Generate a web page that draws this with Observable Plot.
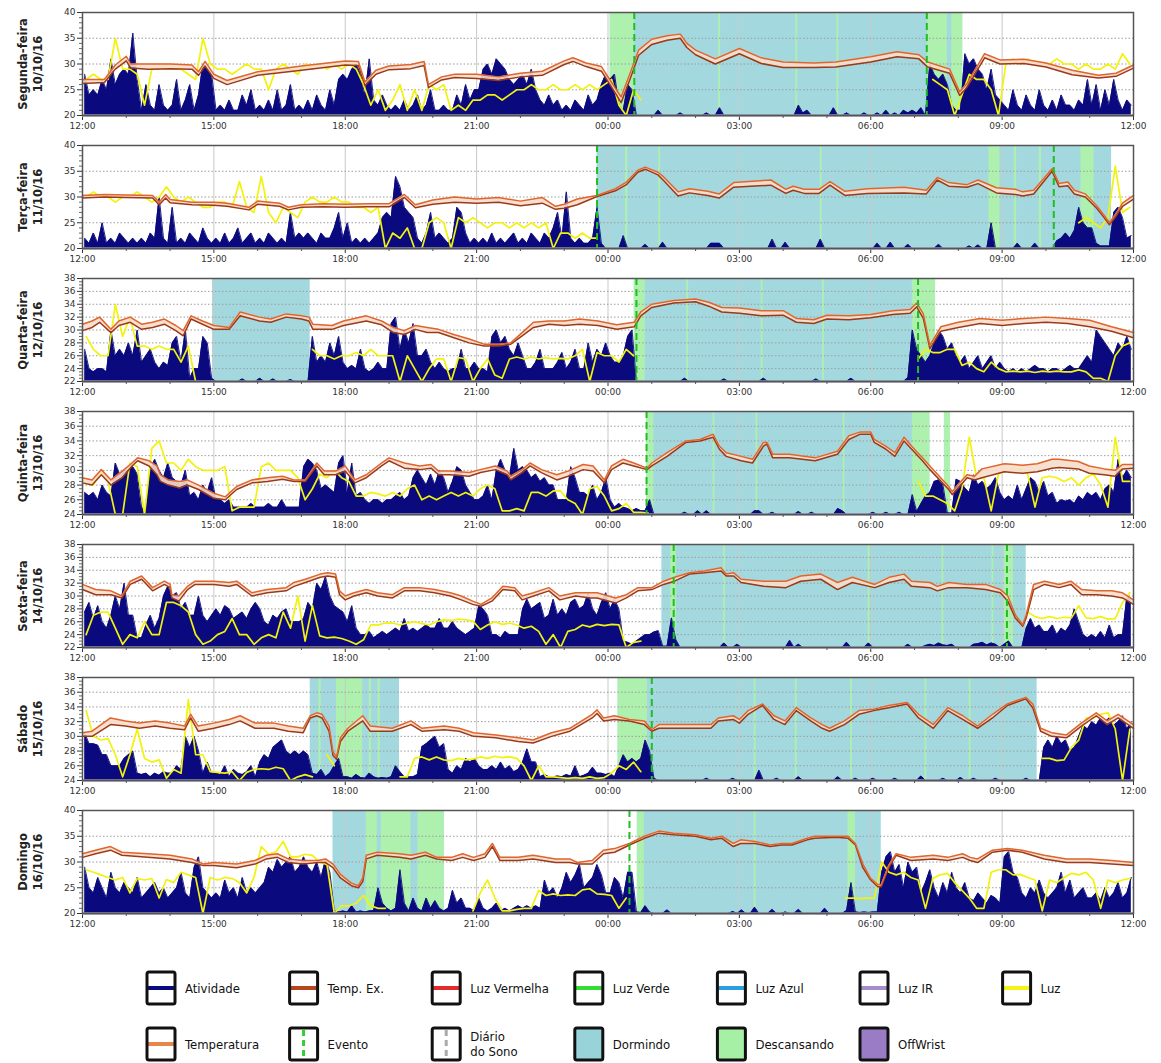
<!DOCTYPE html>
<html><head><meta charset="utf-8">
<script src="https://cdn.jsdelivr.net/npm/d3@7"></script>
<script src="https://cdn.jsdelivr.net/npm/@observablehq/plot@0.6"></script>
<style>
html,body{margin:0;padding:0;background:#fff;width:1161px;height:1063px;overflow:hidden;font-family:"DejaVu Sans",Verdana,sans-serif}
.panel{position:absolute;left:0;width:1161px;height:133px}
#legend{position:absolute;left:0;top:940px}
</style></head><body>
<div id="charts"></div>
<div id="legend"></div>
<script>
const _=null;
const dayNames=["Segunda-feira","Terça-feira","Quarta-feira","Quinta-feira","Sexta-feira","Sábado","Domingo"];
const dayDates=["10/10/16","11/10/16","12/10/16","13/10/16","14/10/16","15/10/16","16/10/16"];
const yMin=[20,20,22,24,22,24,20];
const yMax=[40,40,38,38,38,38,40];
const yStep=[5,5,2,2,2,2,5];
const yMinor=[1,1,0.5,0.5,0.5,0.5,1];
const hourLabels=["12:00","15:00","18:00","21:00","00:00","03:00","06:00","09:00","12:00"];

// Atividade: height above axis minimum, 10 samples per hour (from 12:00)
const act1=[[8,4,5,4,7,5,11,6,8,9],[8,16,7,1,6,2,1,6,2,1],[2,7,1,3,6,1,4,10,9,8],[1,2,1,3,1,1,4,2,5,1],[2,1,3,1,5,1,2,6,1,2],[1,3,1,4,2,1,5,2,7,8],[7,9,10,8,4,11,3,2,4,2],[1,2,1,3,1,2,4,1,2,5],[1,1,2,1,1,4,2,6,3,5],[5,9,10,8,11,10,9,7,6,7],[8,6,9,5,3,2,4,2,3,1],[2,1,3,2,1,4,2,3,6,8],[7,8,2,1,6,5,0,0,0,0],[0,1,0,0,0,0,.5,0,0,0],[0,0,.5,0,0,1.5,0,0,0,0],[0,0,0,0,0,0,0,0,0,0],[0,0,0,2,.5,1,0,0,0,0],[0,1.5,0,0,.5,0,0,0,.5,0],[0,.5,0,1,0,.5,0,1,.5,1],[.5,1.5,0,10,8,7,8,6,2,1],[1,12,10,11,9,8,5,9,4,3],[2,1,5,2,1,4,2,1,5,2],[1,3,1,4,2,2,1,3,2,7],[2,6,1,5,2,7,3,1,3,2]];
const act2=[[2,1,3,1,5,1,2,1,3,2],[1,2,1,2,1,3,2,10,2,1],[8,1,2,1,3,2,1,4,2,1],[2,1,3,1,2,4,1,2,3,1],[2,1,3,2,1,2,1,7,2,3],[2,3,2,1,3,2,2,4,7,2],[5,1,2,1,2,1,2,3,6,7],[6,14,12,8,7,6,2,1,3,7],[2,3,2,1,2,8,7,3,1,2],[1,2,1,3,1,2,1,2,3,1],[2,1,3,2,1,3,2,4,7,2],[11,2,1,2,1,1,2,8,1,0],[0,0,0,2.5,0,0,0,0,.8,0],[0,0,1.2,0,0,0,0,0,0,0],[0,0,0,1,1,1,0,0,0,0],[0,0,0,0,0,0,0,1.8,0,0],[1.2,0,0,0,0,0,0,0,1.8,0],[0,0,0,0,0,0,0,0,0,0],[0,1,0,0,1.2,0,0,0,.8,0],[0,0,0,0,0,.8,0,0,0,0],[0,0,.5,0,.7,0,0,5,0,0],[0,0,0,1,0,0,0,1,0,0],[0,0,1.5,2,3,2,3.5,8,5,4],[4,1,.5,.5,.5,7,8,6,2,2.5]];
const act3=[[5,2,1.5,2,2,1.5,8,4,5,4],[6,4,8,3,4,5,3,2,3,2.5],[6,7,3,8,.5,2,2,7,6,.5],[0,0,0,0,0,0,.4,0,0,0],[.5,0,0,.4,0,0,0,.3,0,0],[0,0,7,3,4,3,6,4,7,3],[2,2.5,2,5,2,1.5,2,3,2,2],[9,10,5,8,6,9,4,4,5,3],[2,3,2,1.5,2,2,5,2,2,3],[2,2,1.5,7,8,6,7,5,4,6],[4,2,2,3,5,2,2,2,3,4.5],[2,3,5,2,2,6,3,5,4,6],[4,3,3,4,7,8,0,0,0,0],[0,0,0,0,0,0,0,.5,0,0],[0,0,0,0,0,0,.4,0,0,0],[0,0,0,0,0,.5,0,0,0,0],[0,0,0,0,0,0,0,.4,0,0],[0,0,0,0,0,.5,0,0,0,0],[0,0,0,0,0,0,0,0,.6,8],[5,4,3,4,6,8,7,5,6,4],[3,4,2,3,4,2,3,4,2,3],[2,1.5,2,1.5,2,1.5,2,2.5,2,2],[1.5,2,2,1.5,2,2.5,2,2,3,4],[3,8,7,6,5,4,6,5,7,5]];
const act4=[[3,2.5,3,2,4,3,2.5,7,5.5,6],[6,6.5,5.5,1,.5,6,7.5,6,5,7],[5,4.5,4,6,2.5,3,2,4,3,5],[2,2,1.5,2,1,1,1,1,1.5,1],[1,1,1.5,1,1,2,1,1,1,1],[6.5,7.5,7,6,3.5,4,3.5,3,7,8],[3,7,2.5,3,2,1.5,2,2,1.5,2],[2,2.5,3,2,2.5,5,6,5,4,5.5],[4,6,5,3,4.5,6.5,6,4,3,2],[2,2.5,4,2,6,7.5,6,5,9,6],[6.5,6,5,5.5,4.5,5,4,4,2,2],[2,6.5,5,3,3,2.5,4,2,3,5],[2,1,1.5,1,.8,.5,.8,.5,.5,2],[0,0,0,0,0,0,0,.3,0,0],[.5,0,.5,0,0,0,0,0,0,0],[0,0,0,.5,.5,0,0,.3,0,0],[0,0,0,.4,0,0,.3,0,0,0],[0,0,.8,.5,0,0,0,0,0,0],[.3,0,0,.3,0,0,.3,0,0,2.7],[.4,1.5,2.5,3,4.5,4.7,4,.2,.2,4.8],[4.5,3.6,3,5.4,4,4.5,3.5,4,5,3],[2,2.5,2,4,2,3.5,5,4.5,3,4.5],[2.5,3,1.5,2,1.8,2,1.5,2.5,2,3],[2.5,3,2,3.5,4,3,7.5,5,6,5]];
const act5=[[5.5,7,4.5,6.5,4,3,5,8,6,10],[5,5,1.5,1.5,3.5,5,3,4.5,8,9.5],[8,8.5,6,7,5,5,8,5,4,5],[6,5,6.5,6,4.5,5,5.5,4.5,6,7],[6,4,3.5,5,4.5,5.5,6,4,4,4],[4.5,7,6,10,9,11,8,6.5,6,5.5],[4,6.5,3,2,2,2.5,1.5,2,2.5,2],[2.5,3,2.5,4.5,2.5,3,2.5,3,3.5,3],[3,4.5,3,3,4,3,2.5,2,2.5,3],[6.5,6,5,2,2,1.5,2.5,2,2,2],[6,7.5,6,6.5,7,4.5,5,7.5,5,6],[5,7,7.5,6,6.5,8.5,6,5,7,8.5],[6,7.5,6,1,.8,.5,1,1.5,2,2],[2.4,2.6,.2,.2,4.6,1.2,0,0,0,0],[0,0,0,0,0,0,.7,0,0,.5],[0,0,0,0,0,0,0,0,0,0],[0,1.1,0,.5,0,0,0,0,0,0],[0,0,0,0,.8,0,0,0,0,.7],[0,0,0,0,0,0,0,0,.5,0],[0,0,.3,.5,.3,.7,.4,.3,.5,0],[0,0,0,.5,.6,.8,.4,.7,.5,0],[.5,1,0,0,0,3,4.5,3,3.5,2.5],[2.5,3.5,2,3,2.5,3.5,6,4,2,1.5],[2,1.5,2.5,1.5,3.5,1.5,2,2,8,7.5]];
const act6=[[6.5,5,5,4.8,3.5,3.5,2,2,2,3],[3.5,4,1,.8,1,.5,1,.7,1.2,1],[1,2,1.5,6,4.5,6,4,1,2.5,1],[1,.8,2,.5,1.5,1,.8,1.2,2,.5],[2.5,3.5,3,4.5,5,5.5,4,3.5,4,3.5],[4,3.5,1,.8,1.5,.5,1,2,3,.5],[.5,.3,.8,.4,.3,1,.5,.3,.4,.3],[.5,2,1.2,.5,.5,.5,.8,4.6,5,5.5],[6,4.5,5,1.5,1,2,1.5,3,2.5,3],[2,1.5,1.5,2,1.5,2.5,1.5,2,1.2,1.5],[2.5,4.3,2.5,2.5,.5,.8,.5,.5,.6,.5],[.8,.6,2,.5,.7,1,1.8,1,1,.8],[1,.5,2,3.5,2.5,3,2.5,3,5.5,4],[.3,0,0,0,0,0,0,0,0,0],[0,0,.3,0,0,0,0,0,.3,0],[0,0,0,0,1.4,0,0,0,.3,0],[0,0,0,.5,0,0,0,0,0,0],[0,0,.5,0,0,0,.3,0,0,0],[.3,0,0,0,0,.3,0,0,0,0],[0,.6,0,0,0,0,.3,0,0,0],[.4,0,0,.3,0,0,0,0,.3,0],[0,0,0,0,0,.3,0,0,0,4.5],[5.5,4.5,6,5,5.5,4,4.5,6,7.5,7],[8,7.5,8.5,8,8.5,7.5,8,8.8,7,8]];
const act7=[[9,5,4,7,5,3,8,5,4,6],[5,4,7,3,4,5,6,4,5,3],[4,5,8,4,3,9,11,5,4,3],[4,3,6.5,4,5,3,7,4,5,4],[5,6,9,8,10.5,9,10,11,8,9],[11,9,8,10,7,10.5,8,.5,.3,.5],[.3,1.5,.3,.5,.3,.5,.6,5,2,1],[.5,1,8.5,2,.5,3,1,.5,3,1],[2.5,1,.5,1,4.5,2,3,1,1,.5],[3,1,.5,1,2,.5,1,.5,1,1.5],[1,1.5,1,1.5,1,6.5,4,5,3,5],[8,6,7.5,9.5,5,6,7,9.5,7.5,4],[4,7,6,3,8,8,.3,.2,1.5,.3],[0,0,0,.7,0,0,0,0,0,0],[0,0,0,0,0,0,0,0,.4,0],[.7,0,0,1.2,0,0,0,.8,0,0],[.3,0,0,.8,0,0,0,0,0,1],[0,0,0,0,.6,6,.3,.2,.3,.2],[.3,.3,8,11,12,8,9.5,5,10,8],[9,4,6,8.5,5,3,6,4,8,5],[4,6,3,2.5,4,3,2,3.5,3,2],[11,12,8,7,4,3,5,4,6.5,4],[3,4,5,8,4,6.5,3,4,5,3],[3,4,2.5,5,3,4,6,3,4,7]];

// Luz: height above axis minimum, 6 samples per hour (null = not shown)
const lux1=[[7,8,7,7,15,9],[9,8,2,9,9,10],[9,9,8,7,15,10],[9,9,8,9,10,9],[9,5,9,10,9,8],[10,9,10,9,10,9],[10,9,6,2,5,1],[3,6,1,5,1,6],[5,6,1,2,1,3],[3,4,4,3,4,5],[5,6,5,5,6,5],[5,6,5,6,5,6],[7,2,0,5,3,_],[_,_,_,_,_,_],[_,_,_,_,_,_],[_,_,_,_,_,_],[_,_,_,_,_,_],[_,_,_,_,_,_],[_,_,_,_,_,_],[_,_,7,6,5,0],[4,8,7,7,5,0],[10,11,10,11,10,10],[10,11,10,10,9,10],[9,9,10,9,12,10]];
const lux2=[[10,11,10,10,9,10],[10,11,10,9,10,12],[10,9,10,9,8,8],[9,9,8,13,8,7],[14,7,5,8,7,6],[9,10,9,9,10,9],[9,8,8,7,8,0],[3,2,4,0,0,5],[6,5,0,6,5,6],[5,4,5,5,4,5],[4,5,4,5,0,3],[3,2,3,2,2,_],[_,_,_,_,_,_],[_,_,_,_,_,_],[_,_,_,_,_,_],[_,_,_,_,_,_],[_,_,_,_,_,_],[_,_,_,_,_,_],[_,_,_,_,_,_],[_,_,_,_,_,_],[_,_,_,_,_,_],[_,_,_,_,_,_],[_,_,_,_,5,6],[5,4,6,16,7,8]];
const lux3=[[7,5,4,4,12,7],[10,5.5,5.5,5,5.5,5],[5,3,5.5,0,_,_],[_,_,_,_,_,_],[_,_,_,_,_,_],[_,5,4,4,3.5,4],[4,4.5,4,5,4,4],[4,0,4,2,0,2],[3.5,3.5,0,3.7,3.5,0],[2,3.5,1,.5,3.5,3.8],[3.5,3.8,3.5,3.7,3.5,3.6],[3.5,4,5,0,4.5,4],[4,3,5,4,_,_],[_,_,_,_,_,_],[_,_,_,_,_,_],[_,_,_,_,_,_],[_,_,_,_,_,_],[_,_,_,_,_,_],[_,_,_,_,_,_],[3.5,5,4.5,4.5,5,5],[2.5,3,2,1.5,3,2],[1.5,1.6,1.5,1.6,1.4,1.6],[1.5,1.6,1.5,1.5,1.8,1.5],[.5,.5,0,4,5.5,6]];
const lux4=[[4.5,4,6,4.5,0,0],[7,6.5,0,9,10,7],[7,6,7.5,6.5,6,6],[6,6.5,.5,1,1,1],[6.5,7,6,6,6,5],[2,3.5,5.5,5,6,5],[4.5,2.5,2.5,3,2.8,2.5],[3,2.5,3.5,4,2,2.5],[2,2.5,3,2.5,3,2.5],[3.5,4,3.5,.5,.5,.8],[.5,3,3,2.5,3.2,3.2],[2,1.5,0,3.5,3.8,2.5],[.5,.8,1.5,.3,.3,.2],[_,_,_,_,_,_],[_,_,_,_,_,_],[_,_,_,_,_,_],[_,_,_,_,_,_],[_,_,_,_,_,_],[_,_,_,_,_,_],[4.5,2.5,2.5,2,1.5,.5],[3.5,10.5,5,5,.5,5.5],[6,6,6.2,5.5,1,5],[5.2,5,4.5,5,4,5],[5.5,4,1,10.5,4.5,4.5]];
const lux5=[[2,5,5.5,5.5,3,.5],[2,1.5,4,2,2,7],[7,6.5,5.5,2,.5,1],[2,2.5,4.5,2,2,.5],[1.5,2,1.5,5.5,3,8],[1,6.5,1.8,1.5,1.6,1.4],[1,.5,1.2,3.5,3.5,3.8],[3.8,3.5,3.8,4,3.7,3.5],[4,4.3,4.2,4.4,4.3,4.1],[2.8,3.5,4,3.6,3.8,3.5],[3,3.3,2.5,.5,2,0],[2.5,2.8,3.5,3.2,3.6,3.4],[3.6,3.5,0,.8,1,_],[_,_,_,_,_,_],[_,_,_,_,_,_],[_,_,_,_,_,_],[_,_,_,_,_,_],[_,_,_,_,_,_],[_,_,_,_,_,_],[_,_,_,_,_,_],[_,_,_,_,_,_],[_,_,_,5.5,4.8,4.5],[4.8,4.5,4.7,4.6,6.5,4.6],[4.5,4.8,4.4,4.5,7,8.5]];
const lux6=[[9.5,6,5.5,5.7,3.5,.5],[3.5,7,3,2.5,2.8,.3],[1.5,1,11,3.5,3.5,1.2],[1.1,1,1.2,0,1.1,1.5],[1.6,1.5,1.8,1.6,0,.5],[.8,.5,_,3.5,2,_],[_,_,_,_,_,_],[_,.5,.5,3,3.2,2.8],[3.2,2.8,2.7,3,2.8,2.9],[3.2,3,3.3,3.1,3.2,3],[2,0,2,.5,.5,.4],[.3,.4,.3,.5,.3,.4],[1,2,1.5,2.5,1.2,_],[_,_,_,_,_,_],[_,_,_,_,_,_],[_,_,_,_,_,_],[_,_,_,_,_,_],[_,_,_,_,_,_],[_,_,_,_,_,_],[_,_,_,_,_,_],[_,_,_,_,_,_],[_,_,_,_,_,3],[3,2.7,2.8,4.5,5.5,8.5],[8.5,9,9.2,7,0,7]];
const lux7=[[8.5,8,7.5,7,6.5,7],[4,6.8,6.5,6.8,3,6.6],[6,8,7.5,7,0,7],[6.5,7,6.8,6,4,7],[13,11.5,12,14,11,11],[11.5,11.3,10,9.5,0,1.5],[1.5,2,3.5,1.5,1,1],[_,_,_,_,_,_],[_,_,_,_,_,.5],[4,6.5,3,.5,.5,.8],[1,1,4.5,3.5,3.8,3.5],[3.6,3.5,4.6,4.8,3.8,3.7],[3.5,1,3,_,_,_],[_,_,_,_,_,_],[_,_,_,_,_,_],[_,_,_,_,_,_],[_,_,_,_,_,_],[_,_,3,3,2.9,3],[3,10,8,7.5,8,7],[6.5,1,6.8,7.5,7.8,6],[4.5,3,1,1,8,8.5],[8.5,7.5,7.6,7,6.5,.5],[6.5,6,7,7.8,7.5,8],[6.5,1,6.5,6,6.5,6.8]];

// Temperatura: [hours since 12:00, Temperatura, Temp. Ex.]
const temp1=[[0,27,26.2],[.5,27,26.4],[.75,29.8,29],[1,31.5,30.6],[1.1,30,29.2],[1.5,30,29],[2,30,29.1],[2.5,29.8,29],[2.65,28.5,27.8],[2.8,30.5,29.6],[3,28,27.2],[3.3,26.8,26],[4,28.5,27.8],[5,29.6,28.8],[6,30.6,29.8],[6.3,30.5,29.7],[6.45,26.5,25.8],[6.7,28.8,28],[7,29.6,28.9],[7.5,29.9,29.1],[7.8,30.5,29.7],[7.9,26,25.4],[8.2,27.5,26.9],[8.5,28,27.4],[9,28,27.2],[9.5,27.5,26.8],[10,28.2,27.5],[10.5,28.6,27.8],[11,30.6,29.9],[11.2,31.2,30.5],[11.5,30.2,29.5],[11.85,29.5,28.6],[12.15,25.5,24.6],[12.3,23.6,22.5],[12.5,28.1,27],[12.7,32.7,31.7],[13,34.8,33.8],[13.35,35.5,34.6],[13.65,35.8,35],[13.8,34,33.2],[14,32.7,31.8],[14.45,31,30],[15,33,32],[15.5,31.2,30.1],[16,30.4,29.3],[16.7,30.2,29.3],[17.2,30.4,29.4],[18,31.4,30.4],[18.6,32.4,31.4],[19.1,31.8,31],[19.3,30.4,29.4],[19.8,29,28.2],[20.03,24.6,23.9],[20.2,26.2,25.5],[20.6,32,31.2],[20.95,30.8,30],[21.5,30.9,30.1],[22,30.2,29.4],[22.6,28.8,27.9],[23.2,27.8,27.3],[23.6,28.2,27.6],[24,29.8,29.2]];
const temp2=[[0,30.3,29.8],[.5,30.5,30],[1,30.4,29.9],[1.6,30.3,29.8],[1.75,29,28.5],[1.9,30.5,29.8],[2,29.5,28.9],[2.5,29,28.5],[3,29,28.4],[3.3,28.8,28.2],[3.8,28,27.5],[4,29.2,28.6],[4.5,28.8,28.2],[4.7,28,27.5],[5,28.5,28],[5.5,28.7,28.1],[6,28.6,28],[6.5,28.7,28.1],[7,28.7,28.1],[7.35,30.5,29.9],[7.6,28.5,27.9],[8,29.4,28.6],[8.5,30,29],[9,29.6,28.8],[9.5,29.9,29],[10,29.2,28.3],[10.5,29.9,28.8],[10.8,28.2,27.6],[11,28.6,27.8],[11.3,29.6,28.5],[11.75,30.3,30.1],[12.17,31.6,31.2],[12.42,32.9,32.4],[12.68,35.2,34.8],[12.85,35.8,35.4],[13.14,34.8,34.3],[13.27,33.9,33.2],[13.6,31,30.2],[13.86,31.6,30.8],[14.28,31.1,30.3],[14.54,30.6,29.8],[14.87,32.8,31.9],[15.72,33.3,32.3],[16.06,31.5,30.7],[16.23,32.1,31.3],[16.48,31.5,30.7],[16.82,31.5,30.7],[17.07,33,32.3],[17.41,31.1,30.3],[17.92,31.6,30.7],[18.76,31.9,30.8],[19.27,31.3,30.6],[19.52,33.8,33.3],[19.78,32.8,32.1],[20.2,32.4,31.9],[20.45,33.3,32.6],[20.87,31.8,30.8],[21.3,31.5,30.5],[21.47,31,30.2],[21.72,31.3,30.6],[22.14,35.5,35],[22.3,32.6,32],[22.5,32.9,32.2],[22.65,31.3,30.6],[22.9,30.6,30],[23.16,28.3,27.8],[23.33,26.4,26],[23.45,25,24.6],[23.58,26.5,26],[23.75,28.8,28.2],[24,30.3,29.6]];
const temp3=[[0,30.9,29.9],[.22,31.4,30.4],[.39,32,31.2],[.65,30.1,29.6],[.83,31.4,30.7],[1.09,32,31.2],[1.35,30.9,30.1],[1.6,31.2,30.4],[1.87,31.7,30.9],[2.13,30.7,29.9],[2.3,29.9,29.1],[2.48,32.2,31.7],[2.74,31.4,30.9],[3,30.7,30.1],[3.35,30.4,30.1],[3.6,32.8,32.2],[4.04,32,31.4],[4.3,31.7,31.2],[4.65,32.5,32],[5,32.2,31.7],[5.17,32,31.4],[5.26,30.9,30.1],[5.7,30.7,30.1],[5.96,31.4,30.7],[6.48,32.2,31.4],[6.83,31.4,30.8],[7.1,30.4,29.6],[7.35,29.9,29.3],[7.6,30.7,30.1],[7.87,30.4,29.6],[8.13,30.1,29.6],[8.48,29.3,28.8],[8.83,28.6,28],[9.17,27.8,27.5],[9.52,27.8,27.5],[9.78,28,27.8],[10.04,29.6,29.1],[10.3,31.2,30.4],[10.65,31.4,30.9],[11,31.4,30.7],[11.35,31.7,30.9],[11.77,31.4,30.7],[12.2,30.8,30.1],[12.6,31.2,30.5],[12.75,32.8,32.2],[13,34,33.5],[13.5,34.6,34.2],[14,34.8,34.4],[14.3,34.3,33.7],[14.6,33.5,32.8],[15,33.4,32.6],[15.5,33,32.2],[16,33,32.3],[16.3,31.8,31.2],[16.7,31.6,31],[17,32.3,31.7],[17.5,32.2,31.6],[18,32.4,31.9],[18.5,33,32.4],[18.9,33.2,32.6],[19.05,34.2,33.6],[19.2,32.5,31.8],[19.35,27.6,27.1],[19.6,30.5,29.8],[20,31.2,30.4],[20.5,31.8,31],[21,31.5,30.7],[21.5,31.8,31],[22,32,31.2],[22.5,31.8,31],[23,31.5,30.5],[23.5,30.5,29.8],[24,29.6,28.8]];
const temp4=[[0,29,28.3],[.22,28.7,28],[.43,30.1,29.4],[.65,28.7,28],[.91,29.9,29],[1.13,31,30.6],[1.26,31.7,31.3],[1.52,31.3,30.6],[1.7,30.6,29.4],[1.78,29.4,28.5],[1.96,28.7,28],[2.22,28.5,27.6],[2.39,28.7,28],[2.65,28,27.4],[3,26.9,26.2],[3.26,26.4,26],[3.52,27.8,27.4],[3.87,28.7,28.3],[4.22,29,28.5],[4.57,29.2,28.8],[4.83,28.7,28.5],[5.09,28.7,28.5],[5.35,31,30.6],[5.52,29.9,29.4],[5.78,29.9,29.4],[6,30.6,29.9],[6.22,28.7,28.3],[6.48,29.4,29],[6.83,31,30.6],[7,31.7,31.3],[7.35,31,30.3],[7.7,30.6,30.1],[7.96,30.8,30.3],[8.13,29.9,29.4],[8.39,29.9,29.4],[8.83,29.7,29.2],[9.09,30.1,29.7],[9.43,30.6,30.1],[9.7,29.9,29.4],[9.78,29.2,28.7],[10.04,30.1,29.7],[10.22,31,30.6],[10.48,30.1,29.7],[10.83,29.4,28.7],[11.09,29.9,29.2],[11.43,30.8,30.1],[11.66,30.6,29.9],[11.92,28.7,28.3],[12.08,30.6,30.1],[12.34,31.5,31],[12.59,31,30.6],[12.89,30.3,30.1],[13,31,30.6],[13.35,32.4,31.9],[13.78,34,33.8],[14.1,34.2,34],[14.4,34.9,34.5],[14.54,33.3,32.9],[14.7,32.4,31.9],[15.04,31.9,31.3],[15.3,31.5,31],[15.55,33.8,33.3],[15.63,33.8,33.6],[15.76,32.2,31.7],[16.14,32.2,31.7],[16.73,31.7,31.3],[17.24,32.6,32.2],[17.5,34.7,34.2],[17.75,35.2,34.9],[18,35.2,34.9],[18.08,34.2,33.8],[18.34,33.3,32.9],[18.55,32.4,31.9],[18.76,34.5,34],[18.93,33.3,32.9],[19.18,31.7,31.3],[19.35,30.6,30.1],[19.78,27.8,27.4],[19.86,27.1,26.7],[20.03,28.3,27.8],[20.2,29.4,29],[20.37,29.2,28.7],[20.54,30.2,29],[21.05,30.9,29.8],[21.47,30.7,29.6],[21.8,30.9,29.8],[22.14,31.5,30.3],[22.3,31.5,30.4],[22.74,31.2,30.2],[22.99,30.6,29.6],[23.33,30.2,29.4],[23.58,30,29.2],[23.75,30.8,30.2],[24,30.8,30.3]];
const temp5=[[0,31.8,31],[.3,31,30.2],[.65,30.8,30.2],[.9,30,29.7],[1.09,32.3,31.8],[1.35,33.1,32.6],[1.6,31.3,30.8],[1.87,32.3,31.8],[2,31.8,31.3],[2.04,30.2,29.7],[2.2,30,29.2],[2.4,31.5,31],[2.57,32.3,31.8],[3,32.3,31.8],[3.35,32.1,31.5],[3.52,32.3,31.8],[3.87,30.5,30],[4.22,31,30.5],[4.65,31.3,30.8],[4.83,32.1,31.5],[5.09,32.6,32.1],[5.43,33.4,32.9],[5.6,33.6,33.1],[5.78,33.4,32.9],[5.87,30.8,30.2],[6,30,29.4],[6.2,30.5,30],[6.48,31,30.5],[6.74,30.5,30],[7.08,30.2,29.7],[7.35,31.3,30.8],[7.7,31.3,30.8],[8.04,31,30.5],[8.4,30.5,30],[8.65,30,29.4],[8.91,29.2,28.7],[9.1,28.7,28.4],[9.35,29.7,29.2],[9.6,31.5,31],[9.87,31.3,30.8],[10.04,30,29.4],[10.3,30.5,30],[10.65,31.3,30.8],[10.9,30,29.4],[11.26,30.5,30],[11.6,30.5,29.7],[11.75,30.5,29.7],[12.17,29.7,28.9],[12.42,30.2,29.7],[12.68,31.3,30.8],[13,31.3,31],[13.27,32.3,31.8],[13.52,32.9,32.3],[13.86,33.6,33.4],[14.2,33.9,33.6],[14.58,34.4,33.9],[14.7,33.4,33.1],[14.87,33.6,33.1],[15.04,32.6,32.1],[15.55,32.3,31.5],[16.06,32.3,31.3],[16.4,33.1,32.3],[16.86,33.4,32.6],[17.24,32.1,31],[17.58,32.9,32.1],[18.09,31.8,31.3],[18.42,32.9,32.1],[18.76,33.4,32.6],[18.93,32.3,31.5],[19.35,32.1,31.3],[19.52,31.5,30.8],[19.78,32.1,31.3],[20.2,31.8,31.3],[20.62,31.8,31],[20.96,31,30.5],[21.13,30,29.2],[21.3,27.1,26.6],[21.47,25.5,25.3],[21.55,27.1,26.6],[21.72,31.8,31],[21.97,32.3,31.8],[22.3,31.8,31.3],[22.57,32.3,31.8],[22.82,31,30.2],[23.16,30.8,30.2],[23.5,30.8,30],[23.75,30.5,29.7],[24,29.4,28.7]];
const temp6=[[0,30.5,30],[.22,30.7,30],[.64,32.5,31.6],[.98,32.1,31.4],[1.3,31.8,31.1],[1.66,32.1,31.4],[2,31.8,31.1],[2.33,31.4,30.9],[2.47,33,32.5],[2.64,31.4,30.7],[3,31.8,31.1],[3.35,32.3,31.6],[3.6,32.8,32.1],[3.94,31.8,31.1],[4.37,31.8,31.1],[4.7,31.4,30.7],[5.04,31.1,30.5],[5.2,32.8,32.5],[5.35,33.2,32.8],[5.47,33,32.5],[5.63,31.4,30.7],[5.72,27.9,27.4],[5.8,27.2,26.9],[5.89,29.8,29.3],[6.06,31.1,30.7],[6.4,32.8,32.1],[6.57,31.4,30.7],[7.07,31.1,30.7],[7.5,32.1,31.6],[7.75,31.1,30.7],[8.26,31.4,30.9],[8.6,31.1,30.7],[8.93,30.5,30],[9.44,30.2,29.8],[9.95,29.8,29.3],[10.29,29.5,29.1],[10.71,30.5,30],[11.13,31.1,30.7],[11.64,33,32.5],[11.75,33.6,33.1],[11.9,32.5,32.1],[12.15,32.8,32.3],[12.49,32.3,32.1],[12.83,32.1,31.6],[13,30.9,30.7],[13.16,31.6,31.1],[14.35,31.6,31.1],[14.52,32.5,32.1],[14.86,32.8,32.3],[15,32.3,31.8],[15.2,33.5,33],[15.53,34.4,34.2],[15.79,32.8,32.3],[16.04,32.1,31.6],[16.3,33.9,33.5],[16.63,32.5,32.1],[16.89,31.6,31.1],[17.06,31.1,30.7],[17.4,32.1,31.6],[17.73,33.5,33],[18.07,33.7,33.5],[18.41,34.2,33.9],[18.83,34.6,34.4],[19.09,33,32.5],[19.43,31.6,31.1],[19.76,33.9,33.5],[20.1,32.8,32.3],[20.44,31.4,31.1],[20.78,33,32.5],[21.12,34.4,34.2],[21.54,35.3,35.1],[21.7,34.4,33.9],[21.88,31.1,30.7],[22.13,30.5,30],[22.47,30.2,29.8],[22.81,31.8,31.4],[23.15,33.2,32.8],[23.4,32.1,31.6],[23.65,33,32.5],[24,31.6,31.1]];
const temp7=[[0,31.6,30.9],[.3,32.3,31.6],[.64,33,32.3],[.9,31.9,31.3],[1.49,31.6,30.9],[2,31.3,30.6],[2.5,30.6,29.9],[2.76,29.6,29.3],[3,29.9,29.3],[3.52,29.6,28.9],[3.94,30.3,29.6],[4.2,31.3,30.6],[4.45,31.6,30.9],[4.7,30.6,29.9],[5.04,30.3,29.6],[5.38,30.3,29.9],[5.55,30.6,29.9],[5.72,29.6,28.9],[5.89,27.6,26.9],[6.14,25.9,25.4],[6.3,25.4,25],[6.4,26.9,26.2],[6.48,31.3,30.6],[6.73,31.9,31.3],[7.24,31.6,30.9],[7.5,31.3,30.6],[7.83,31.9,31.3],[8.09,30.9,30.6],[8.43,30.9,30.3],[8.68,31.6,30.9],[8.93,30.9,30.3],[9.19,31.6,30.9],[9.36,33.6,33],[9.53,30.9,30.3],[9.95,30.9,30.3],[10.29,31.3,30.6],[10.8,30.6,29.9],[11.13,30.6,29.9],[11.3,29.9,29.6],[11.64,30.3,29.6],[11.9,32.3,31.6],[12.15,32.6,31.9],[12.49,33.6,33.3],[12.83,35,34.6],[13.16,36,35.6],[13.5,35.6,35.3],[14,35.3,35],[14.35,34.6,34.3],[14.6,35,34.6],[14.86,33.6,33],[15.03,34.3,33.6],[15.36,34,33.6],[15.7,33.3,33],[15.96,33.6,33.3],[16.2,33.6,33.3],[16.55,34.6,34.3],[16.72,35,34.6],[17.22,35,34.8],[17.48,35,34.6],[17.65,33.6,33.3],[17.82,29.6,28.9],[17.99,26.9,26.6],[18.16,25.6,25.2],[18.24,25.6,25.2],[18.41,29.3,28.9],[18.58,31.6,31.3],[18.92,30.9,30.3],[19.43,31.3,30.6],[19.76,30.9,30.3],[20.1,31.6,30.9],[20.27,30.9,30.3],[20.44,30.6,29.9],[20.78,32.3,31.9],[21.12,32.6,32.3],[21.46,32.3,31.9],[21.96,31.3,30.6],[22.47,30.6,29.9],[23,30.6,29.9],[23.5,30.3,29.6],[24,29.9,29.3]];

// Dormindo / Descansando intervals and Evento marks (hours since 12:00)
const sleep1=[[12.05,20.1]], rest1=[[12.05,12.6],[19.3,19.75],[19.85,20.1],[14.53,14.57],[16.29,16.33],[17.23,17.27]], ev1=[12.6,19.28];
const sleep2=[[11.75,23.5]], rest2=[[20.7,20.95],[21.28,21.33],[21.85,21.9],[22.8,23.1],[12.4,12.45],[13.16,13.2],[16.85,16.89]], ev2=[11.75,22.18];
const sleep3=[[2.97,5.2],[12.6,19.48]], rest3=[[12.6,12.85],[18.95,19.48],[13.8,13.84],[15.5,15.54],[16.9,16.94]], ev3=[12.65,19.08];
const sleep4=[[12.88,19.35]], rest4=[[12.88,13.05],[18.95,19.35],[19.68,19.82],[14.4,14.44],[15.38,15.42],[17.37,17.41]], ev4=[12.88];
const sleep5=[[13.23,21.55]], rest5=[[13.43,13.56],[21.05,21.26],[14.64,14.68],[17.94,17.98],[19.63,19.67],[20.77,20.81]], ev5=[13.5,21.11];
const sleep6=[[5.2,7.24],[12.23,21.8]], rest6=[[5.8,6.4],[5.4,5.45],[6.55,6.6],[6.75,6.8],[12.23,12.9],[15.34,15.38],[16.28,16.32],[17.54,17.58],[19.24,19.28],[20.25,20.29]], ev6=[13];
const sleep7=[[5.72,8.26],[12.67,18.24]], rest7=[[6.48,6.73],[6.82,7.5],[7.66,8.26],[12.67,12.83],[17.48,17.65],[15.34,15.38]], ev7=[12.49];

const legendRow1=["Atividade","Temp. Ex.","Luz Vermelha","Luz Verde","Luz Azul","Luz IR","Luz"];
const legendRow2=["Temperatura","Evento","Diário\ndo Sono","Dormindo","Descansando","OffWrist"];

const C={act:"#0a0a7e",lux:"#f2f20c",tin:"#e0652c",tex:"#9a3a1a",band:"#f7ddcc",sleep:"#a3d9de",rest:"#aef0ae",ev:"#1fbf1f"};
const acts=[act1,act2,act3,act4,act5,act6,act7];
const luxs=[lux1,lux2,lux3,lux4,lux5,lux6,lux7];
const temps=[temp1,temp2,temp3,temp4,temp5,temp6,temp7];
const sleeps=[sleep1,sleep2,sleep3,sleep4,sleep5,sleep6,sleep7];
const rests=[rest1,rest2,rest3,rest4,rest5,rest6,rest7];
const evs=[ev1,ev2,ev3,ev4,ev5,ev6,ev7];

function series(hours,base){
  const out=[];
  hours.forEach((arr,h)=>arr.forEach((v,j)=>out.push({x:h+(j+0.5)/arr.length,v:v==null?NaN:base+v})));
  return out;
}
const range=(a,b,s)=>{const r=[];for(let v=a;v<=b+1e-9;v+=s)r.push(Math.round(v*100)/100);return r;};

const charts=document.getElementById("charts");
for(let i=0;i<7;i++){
  const b=yMin[i],t=yMax[i];
  const ppu=103/(t-b);
  const ticksY=range(b,t,yStep[i]);
  const minorY=range(b,t,yMinor[i]).filter(v=>!ticksY.includes(v));
  const minorX=range(0,24,1).filter(v=>v%3!==0);
  const actD=series(acts[i],b), luxD=series(luxs[i],b);
  const temp=temps[i];
  const svg=Plot.plot({
    width:1161,height:133,marginLeft:82,marginRight:28,marginTop:10,marginBottom:20,
    style:{fontFamily:"DejaVu Sans, Verdana, sans-serif",fontSize:"9px",color:"#333",background:"transparent",overflow:"visible"},
    x:{domain:[0,24],ticks:range(0,24,3),tickFormat:d=>hourLabels[Math.round(d/3)],tickSize:5,tickPadding:2,label:null},
    y:{domain:[b,t],ticks:ticksY,tickSize:5,tickPadding:2,label:null},
    marks:[
      Plot.rect(sleeps[i],{x1:d=>d[0],x2:d=>d[1],y1:()=>b,y2:()=>t,fill:C.sleep}),
      Plot.rect(rests[i],{x1:d=>d[0],x2:d=>d[1],y1:()=>b,y2:()=>t,fill:C.rest}),
      Plot.ruleX(range(3,21,3),{stroke:"#c9c9c9",strokeWidth:1}),
      Plot.ruleY(ticksY.filter(v=>v>b&&v<t),{stroke:"#9c9c9c",strokeDasharray:"1.5,2"}),
      Plot.area(actD,{x1:"x",y1:()=>b,y2:"v",fill:C.act}),
      Plot.line(actD,{x:"x",y:"v",stroke:C.act,strokeWidth:0.9}),
      Plot.line(luxD,{x:"x",y:"v",stroke:C.lux,strokeWidth:1.7}),
      Plot.area(temp,{x1:d=>d[0],y1:d=>d[2],y2:d=>d[1],fill:C.band,fillOpacity:0.9}),
      Plot.line(temp,{x:d=>d[0],y:d=>d[2],stroke:C.tex,strokeWidth:1.5}),
      Plot.line(temp,{x:d=>d[0],y:d=>d[1],stroke:C.tin,strokeWidth:1.5}),
      Plot.ruleX(evs[i],{stroke:C.ev,strokeWidth:2,strokeDasharray:"7,4"}),
      Plot.ruleY([b],{stroke:"#9d9db0",strokeWidth:2.5}),
      Plot.frame({stroke:"#555",strokeWidth:1.5}),
      Plot.ruleX(minorX,{y1:()=>b,y2:()=>b-3/ppu,stroke:"#555"}),
      Plot.ruleY(minorY,{x1:()=>0,x2:()=>-3/43.8,stroke:"#666"}),
      Plot.text([0],{frameAnchor:"left",textAnchor:"middle",lineAnchor:"middle",text:()=>dayNames[i]+"\n"+dayDates[i],dx:-53,rotate:-90,fontWeight:"bold",fontSize:11.5,lineHeight:1.3,fill:"#222",fontFamily:"DejaVu Sans, Verdana, sans-serif"})
    ]
  });
  const div=document.createElement("div");
  div.className="panel";div.style.top=(2+i*133)+"px";
  div.appendChild(svg);charts.appendChild(div);
}

// Legend
const legColors1=[["line","#0a0a7e"],["line","#b5461f"],["line","#e32b2b"],["line","#33dd33"],["line","#2a9fe0"],["line","#a58ccc"],["line","#f4f414"]];
const legColors2=[["line","#e8864a"],["dash","#33cc33"],["dash","#aaaaaa"],["fill","#98d3da"],["fill","#a6f0a6"],["fill","#9a7cc6"]];
const lg=d3.select("#legend").append("svg").attr("width",1161).attr("height",123);
function legItem(col,row,label,kind,color){
  const g=lg.append("g").attr("transform",`translate(${147+col*142.6},${32+row*56})`);
  g.append("rect").attr("width",28).attr("height",32).attr("fill",kind==="fill"?color:"#fff");
  if(kind==="line")g.append("line").attr("x1",1).attr("x2",27).attr("y1",16).attr("y2",16).attr("stroke",color).attr("stroke-width",4);
  if(kind==="dash")g.append("line").attr("x1",14).attr("x2",14).attr("y1",2).attr("y2",30).attr("stroke",color).attr("stroke-width",3).attr("stroke-dasharray","6,4");
  g.append("rect").attr("width",28).attr("height",32).attr("fill","none").attr("stroke","#111").attr("stroke-width",3).attr("rx",2);
  const lines=label.split("\n");
  lines.forEach((s,k)=>g.append("text").attr("x",38).attr("y",16+(k-(lines.length-1)/2)*15).attr("dominant-baseline","central")
    .attr("font-family","'Liberation Sans Narrow','Arial Narrow','DejaVu Sans Condensed',sans-serif").attr("font-size",13).attr("fill","#111").text(s));
}
legendRow1.forEach((l,k)=>legItem(k,0,l,legColors1[k][0],legColors1[k][1]));
legendRow2.forEach((l,k)=>legItem(k,1,l,legColors2[k][0],legColors2[k][1]));
</script>
</body></html>
